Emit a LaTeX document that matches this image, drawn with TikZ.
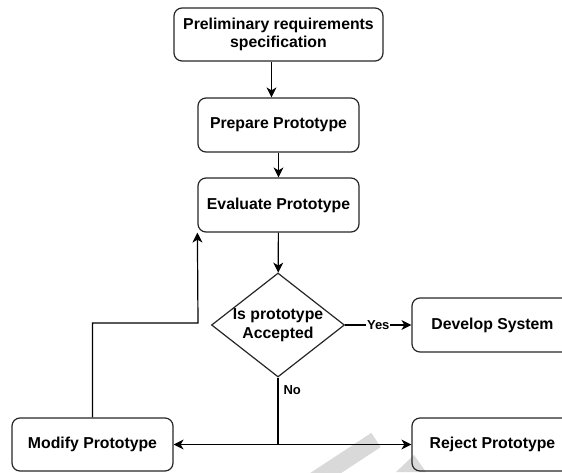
\documentclass[tikz,border=0pt]{standalone}
\usepackage{fontspec}
\setmainfont{Liberation Sans}
\usetikzlibrary{shapes.geometric,arrows.meta}

\begin{document}
\begin{tikzpicture}[x=1pt,y=-1pt,
    boite/.style={draw=black!85, line width=1.2pt, rounded corners=8pt, align=center,
        inner sep=0pt, minimum width=161pt, minimum height=54pt,
        font=\bfseries\fontsize{15.8}{18}\selectfont},
    losange/.style={draw=black!85, line width=1.2pt, diamond, aspect=1.28, align=center,
        inner sep=0pt, minimum width=133pt, minimum height=104pt,
        font=\bfseries\fontsize{15.8}{19}\selectfont},
    etiquette/.style={inner sep=0pt, font=\bfseries\fontsize{13}{14}\selectfont},
    fleche/.style={line width=1.2pt, -{Stealth[length=10pt,width=10pt,inset=3pt]}}]

    % Cadre de la figure
    \useasboundingbox (0,0) rectangle (562,472);
    \clip (0,0) rectangle (562,472);

    % Filigrane
    \draw[gray!30, line width=17pt] (312,482) -- (376,440);
    \fill[gray!30] (396,472) -- (414,455) -- (426,472) -- cycle;

    % Etapes
    \node[boite, minimum width=209pt, minimum height=53pt] (prelim) at (278.5,34.5) {Preliminary requirements\\specification};
    \node[boite] (prepare) at (278.5,125) {Prepare Prototype};
    \node[boite] (evaluate) at (278.5,205) {Evaluate Prototype};
    \node[losange] (accepte) at (278,325) {Is prototype\\Accepted};
    \node[boite] (develop) at (492.5,325) {Develop System};
    \node[boite, minimum height=53pt] (reject) at (492.5,444.5) {Reject Prototype};
    \node[boite, minimum height=53pt] (modify) at (92.5,444.5) {Modify Prototype};

    % Points de passage
    \coordinate (split) at (accepte.south |- modify.east);
    \coordinate (coude) at (198,323);

    % Fleches
    \draw[fleche] ([xshift=-7pt]prelim.south) -- ([xshift=-7pt]prepare.north);
    \draw[fleche] (prepare) -- (evaluate);
    \draw[fleche] (evaluate) -- (accepte);
    \draw[fleche] (accepte.east) -- node[etiquette, fill=white, inner sep=1pt] {Yes} (develop.west);
    \draw[line width=1.2pt] (accepte.south) -- node[etiquette, pos=0.19, anchor=west, xshift=5pt] {No} (split);
    \draw[fleche] (split) -- (modify.east);
    \draw[fleche] (split) -- (reject.west);
    \draw[fleche] (modify.north) |- (coude) -- (evaluate.south west);

\end{tikzpicture}
\end{document}
